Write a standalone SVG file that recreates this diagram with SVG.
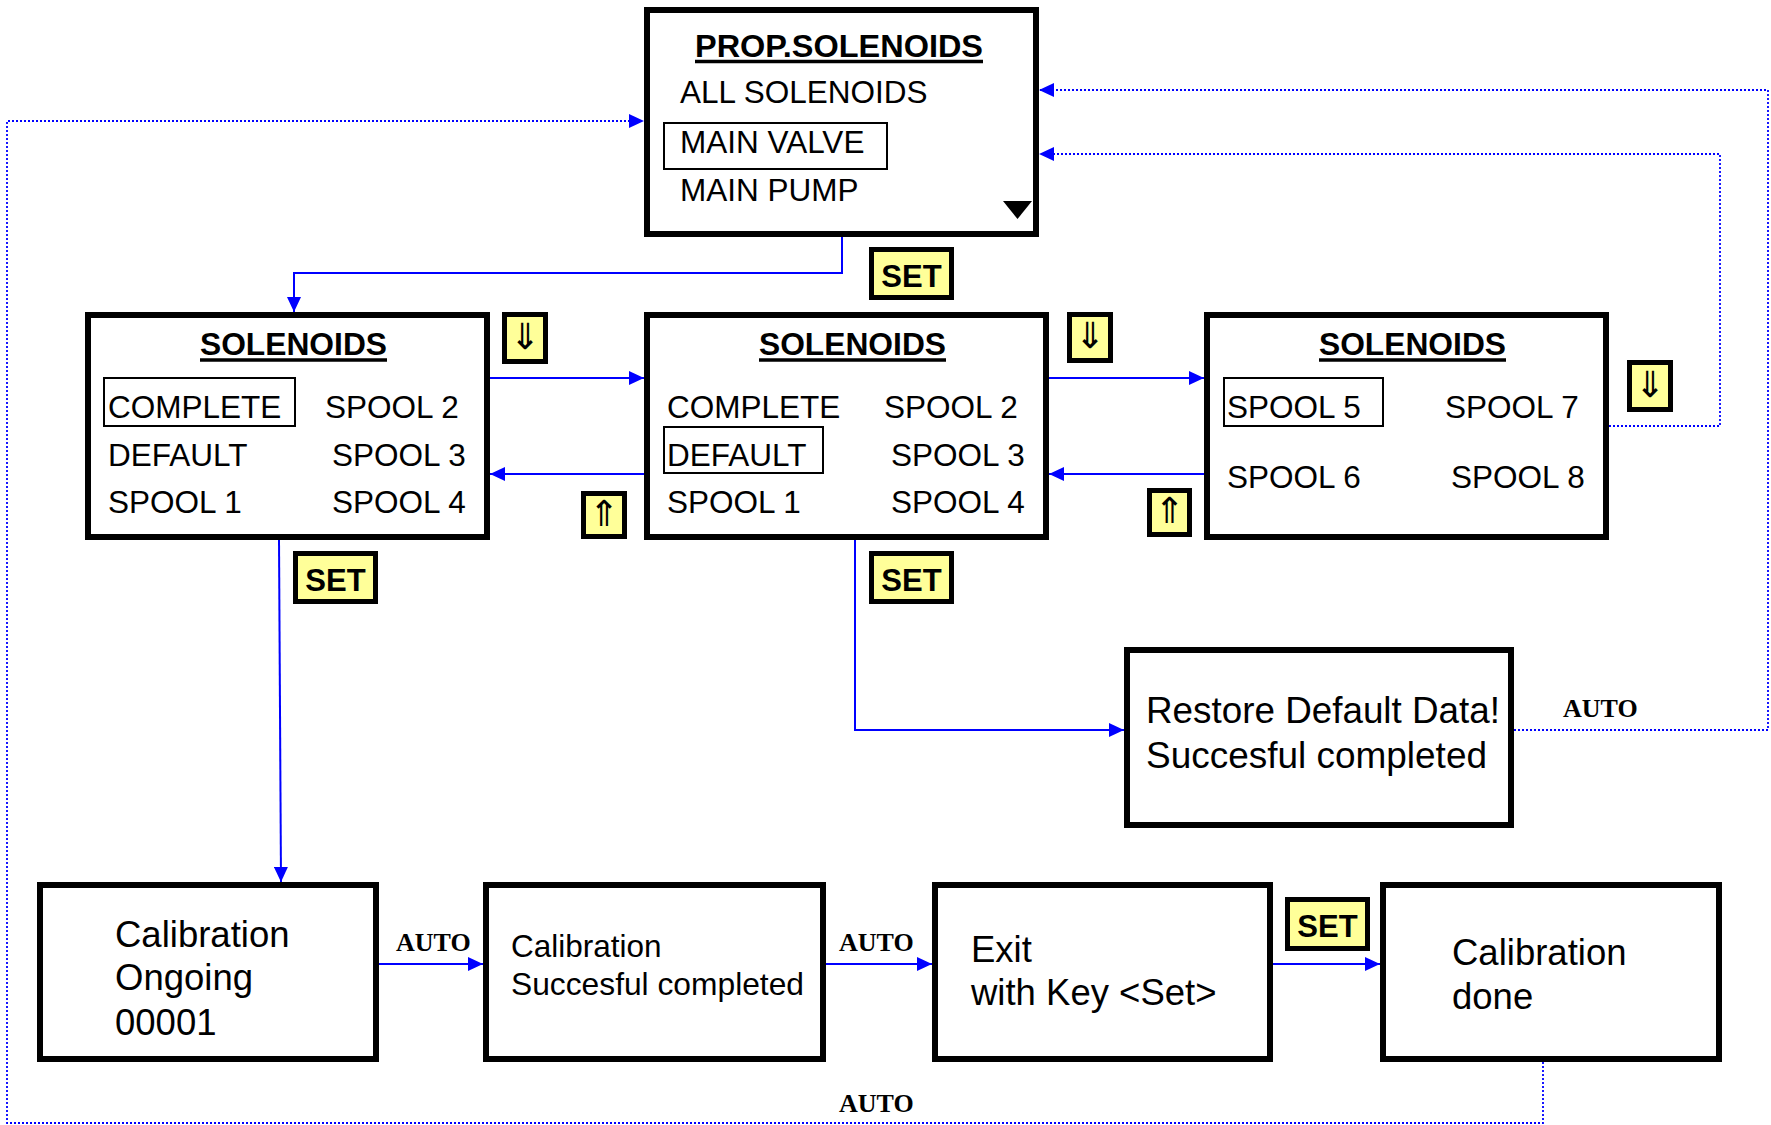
<svg xmlns="http://www.w3.org/2000/svg" width="1771" height="1125" viewBox="0 0 1771 1125">
<style>
.box{fill:#fff;stroke:#000;stroke-width:6}
.sel{fill:none;stroke:#000;stroke-width:2}
.badge{fill:#ffff99;stroke:#000;stroke-width:5}
.t{font-family:"Liberation Sans",Arial,sans-serif;font-size:31.5px;fill:#000}
.tb{font-family:"Liberation Sans",Arial,sans-serif;font-size:31.5px;font-weight:bold;fill:#000}
.big{font-family:"Liberation Sans",Arial,sans-serif;font-size:36.5px;fill:#000}
.set{font-family:"Liberation Sans",Arial,sans-serif;font-size:31px;font-weight:bold;fill:#000;text-anchor:middle}
.arr{font-family:"DejaVu Sans",sans-serif;font-size:36px;fill:#000;text-anchor:middle}
.auto{font-family:"Liberation Serif","Times New Roman",serif;font-size:26px;font-weight:bold;fill:#000}
.ul{stroke:#000;stroke-width:3.5}
.c{fill:none;stroke:#0000ff;stroke-width:2}
.d{fill:none;stroke:#0000ff;stroke-width:1.8;stroke-dasharray:2 2}
</style>
<defs>
<marker id="ah" viewBox="0 0 15 14" refX="15" refY="7" markerWidth="15" markerHeight="14" orient="auto" markerUnits="userSpaceOnUse">
<path d="M0,0 L15,7 L0,14 z" fill="#0000ff"/>
</marker>
</defs>

<g id="connectors">
<path class="c" d="M842,237 V273 H294 V312" marker-end="url(#ah)"/>
<path class="c" d="M490,378 H644" marker-end="url(#ah)"/>
<path class="c" d="M644,474 H490" marker-end="url(#ah)"/>
<path class="c" d="M1049,378 H1204" marker-end="url(#ah)"/>
<path class="c" d="M1204,474 H1049" marker-end="url(#ah)"/>
<path class="c" d="M279,540 L281,882" marker-end="url(#ah)"/>
<path class="c" d="M855,540 V730 H1124" marker-end="url(#ah)"/>
<path class="c" d="M379,964 H483" marker-end="url(#ah)"/>
<path class="c" d="M826,964 H932" marker-end="url(#ah)"/>
<path class="c" d="M1273,964 H1380" marker-end="url(#ah)"/>
<path class="d" d="M1514,730 H1768 V90 H1039" marker-end="url(#ah)"/>
<path class="d" d="M1609,426 H1720 V154 H1039" marker-end="url(#ah)"/>
<path class="d" d="M1543,1062 V1123 H7 V121 H644" marker-end="url(#ah)"/>
<text class="auto" x="396" y="951">AUTO</text>
<text class="auto" x="839" y="951">AUTO</text>
<text class="auto" x="1563" y="717">AUTO</text>
<text class="auto" x="839" y="1112">AUTO</text>
</g>

<g id="prop">
<rect class="box" x="647" y="10" width="389" height="224"/>
<text class="tb" x="695" y="57" textLength="288" lengthAdjust="spacingAndGlyphs">PROP.SOLENOIDS</text>
<line class="ul" x1="695" y1="61.5" x2="983" y2="61.5"/>
<text class="t" x="680" y="103">ALL SOLENOIDS</text>
<rect class="sel" x="664" y="123" width="223" height="46"/>
<text class="t" x="680" y="153">MAIN VALVE</text>
<text class="t" x="680" y="201">MAIN PUMP</text>
<polygon points="1003,201 1032,201 1017.5,219" fill="#000"/>
</g>

<g id="sol1">
<rect class="box" x="88" y="315" width="399" height="222"/>
<text class="tb" x="200" y="355" textLength="187" lengthAdjust="spacingAndGlyphs">SOLENOIDS</text>
<line class="ul" x1="200" y1="360" x2="387" y2="360"/>
<rect class="sel" x="104" y="378" width="191" height="48"/>
<text class="t" x="108" y="418">COMPLETE</text>
<text class="t" x="325" y="418">SPOOL 2</text>
<text class="t" x="108" y="466">DEFAULT</text>
<text class="t" x="332" y="466">SPOOL 3</text>
<text class="t" x="108" y="513">SPOOL 1</text>
<text class="t" x="332" y="513">SPOOL 4</text>
</g>

<g id="sol2">
<rect class="box" x="647" y="315" width="399" height="222"/>
<text class="tb" x="759" y="355" textLength="187" lengthAdjust="spacingAndGlyphs">SOLENOIDS</text>
<line class="ul" x1="759" y1="360" x2="946" y2="360"/>
<text class="t" x="667" y="418">COMPLETE</text>
<text class="t" x="884" y="418">SPOOL 2</text>
<rect class="sel" x="664" y="427" width="159" height="46"/>
<text class="t" x="667" y="466">DEFAULT</text>
<text class="t" x="891" y="466">SPOOL 3</text>
<text class="t" x="667" y="513">SPOOL 1</text>
<text class="t" x="891" y="513">SPOOL 4</text>
</g>

<g id="sol3">
<rect class="box" x="1207" y="315" width="399" height="222"/>
<text class="tb" x="1319" y="355" textLength="187" lengthAdjust="spacingAndGlyphs">SOLENOIDS</text>
<line class="ul" x1="1319" y1="360" x2="1506" y2="360"/>
<rect class="sel" x="1224" y="378" width="159" height="48"/>
<text class="t" x="1227" y="418">SPOOL 5</text>
<text class="t" x="1445" y="418">SPOOL 7</text>
<text class="t" x="1227" y="488">SPOOL 6</text>
<text class="t" x="1451" y="488">SPOOL 8</text>
</g>

<g id="restore">
<rect class="box" x="1127" y="650" width="384" height="175"/>
<text class="big" x="1146" y="723" textLength="354" lengthAdjust="spacingAndGlyphs">Restore Default Data!</text>
<text class="big" x="1146" y="768" textLength="341" lengthAdjust="spacingAndGlyphs">Succesful completed</text>
</g>

<g id="cal-ongoing">
<rect class="box" x="40" y="885" width="336" height="174"/>
<text class="big" x="115" y="947">Calibration</text>
<text class="big" x="115" y="990">Ongoing</text>
<text class="big" x="115" y="1035">00001</text>
</g>

<g id="cal-success">
<rect class="box" x="486" y="885" width="337" height="174"/>
<text class="t" x="511" y="957">Calibration</text>
<text class="t" x="511" y="995" textLength="293" lengthAdjust="spacingAndGlyphs">Succesful completed</text>
</g>

<g id="exit">
<rect class="box" x="935" y="885" width="335" height="174"/>
<text class="big" x="971" y="962">Exit</text>
<text class="big" x="971" y="1005">with Key &lt;Set&gt;</text>
</g>

<g id="cal-done">
<rect class="box" x="1383" y="885" width="336" height="174"/>
<text class="big" x="1452" y="965">Calibration</text>
<text class="big" x="1452" y="1009">done</text>
</g>

<g id="set-1">
<rect class="badge" x="871.5" y="249.5" width="80" height="48"/>
<text class="set" x="911.5" y="287">SET</text>
</g>
<g id="set-2">
<rect class="badge" x="295.5" y="553.5" width="80" height="48"/>
<text class="set" x="335.5" y="591">SET</text>
</g>
<g id="set-3">
<rect class="badge" x="871.5" y="553.5" width="80" height="48"/>
<text class="set" x="911.5" y="591">SET</text>
</g>
<g id="set-4">
<rect class="badge" x="1287.5" y="899.5" width="80" height="49"/>
<text class="set" x="1327.5" y="937">SET</text>
</g>

<g id="down-1">
<rect class="badge" x="504.5" y="314.5" width="41" height="47"/>
<text class="arr" x="525" y="349">⇓</text>
</g>
<g id="down-2">
<rect class="badge" x="1069.5" y="314.5" width="41" height="46"/>
<text class="arr" x="1090" y="348">⇓</text>
</g>
<g id="down-3">
<rect class="badge" x="1629.5" y="362.5" width="41" height="47"/>
<text class="arr" x="1650" y="397">⇓</text>
</g>
<g id="up-1">
<rect class="badge" x="583.5" y="493.5" width="41" height="43"/>
<text class="arr" x="604" y="526">⇑</text>
</g>
<g id="up-2">
<rect class="badge" x="1149.5" y="490.5" width="40" height="44"/>
<text class="arr" x="1169.5" y="523">⇑</text>
</g>
</svg>
